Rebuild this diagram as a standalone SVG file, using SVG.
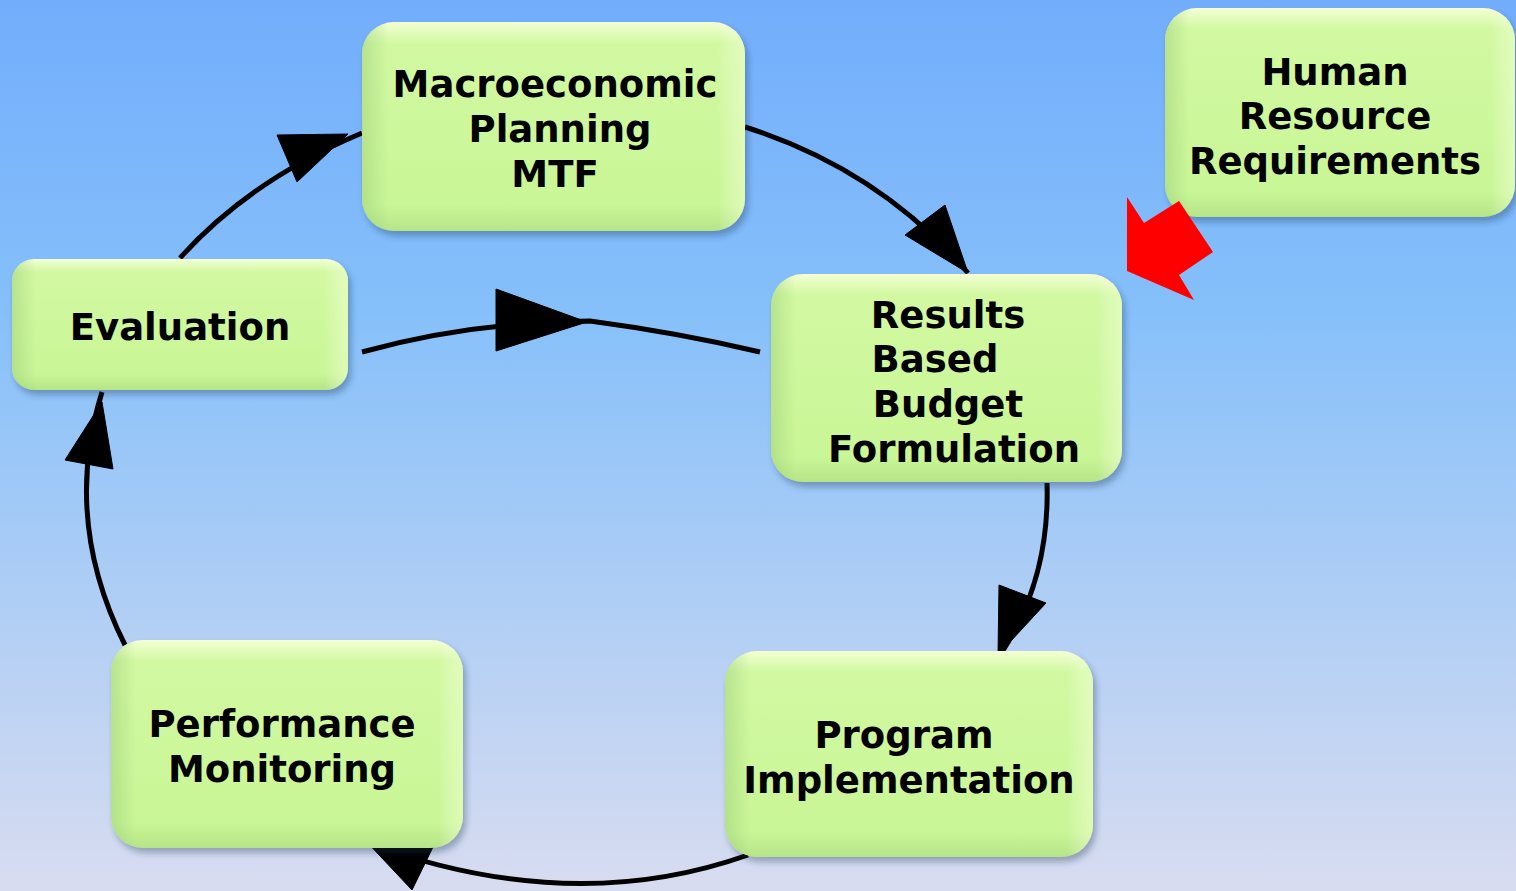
<svg xmlns="http://www.w3.org/2000/svg" width="1516" height="891" viewBox="0 0 1516 891">
<defs>
<linearGradient id="bg" x1="0" y1="0" x2="0" y2="1">
<stop offset="0" stop-color="#72adfc"/>
<stop offset="0.35" stop-color="#86c0fa"/>
<stop offset="1" stop-color="#d8dcf0"/>
</linearGradient>
<linearGradient id="nodeV" x1="0" y1="0" x2="0" y2="1">
<stop offset="0" stop-color="#f4ffd4"/>
<stop offset="0.1" stop-color="#d2f9a2"/>
<stop offset="0.88" stop-color="#c9f696"/>
<stop offset="1" stop-color="#b6e488"/>
</linearGradient>
<linearGradient id="nodeH" x1="0" y1="0" x2="1" y2="0">
<stop offset="0" stop-color="#98c878" stop-opacity="0.45"/>
<stop offset="0.07" stop-color="#98c878" stop-opacity="0"/>
<stop offset="0.93" stop-color="#ffffff" stop-opacity="0"/>
<stop offset="1" stop-color="#f4ffd0" stop-opacity="0.5"/>
</linearGradient>
<filter id="sh" x="-10%" y="-10%" width="125%" height="130%">
<feDropShadow dx="3" dy="5" stdDeviation="3" flood-color="#203050" flood-opacity="0.35"/>
</filter>
</defs>
<style>
.box{fill:url(#nodeV);filter:url(#sh);}
.bev{fill:url(#nodeH);}
.lbl{font-family:"DejaVu Sans","Verdana",sans-serif;font-weight:bold;font-size:37px;fill:#000;text-anchor:middle;}
.con{fill:none;stroke:#000;stroke-width:5;}
.head{fill:#000;stroke:#000;stroke-width:1;stroke-linejoin:round;}
</style>
<rect x="0" y="0" width="1516" height="891" fill="url(#bg)"/>

<g id="connectors">
<path class="con" d="M180,258 Q250,180 362,133"/>
<polygon class="head" points="348,134 277,135 297,182"/>
<path class="con" d="M745,127 Q880,170 968,273"/>
<polygon class="head" points="968,273 945,205 905,235"/>
<path class="con" d="M1047,483 Q1050,580 1000,655"/>
<polygon class="head" points="998,655 999,585 1046,603"/>
<path class="con" d="M748,855 Q570,918 365,842"/>
<polygon class="head" points="365,840 433,847 412,890"/>
<path class="con" d="M125,645 Q62,520 102,392"/>
<polygon class="head" points="102,402 65,460 113,469"/>
<path class="con" d="M362,352 Q470,322 590,321 Q680,333 760,352"/>
<polygon class="head" points="587,322 496,289 496,351"/>
</g>

<g id="node-macro">
<rect class="box" x="362" y="22" width="383" height="209" rx="32"/>
<rect class="bev" x="362" y="22" width="383" height="209" rx="32"/>
<text class="lbl" x="555" y="97">Macroeconomic</text>
<text class="lbl" x="560" y="142">Planning</text>
<text class="lbl" x="555" y="187">MTF</text>
</g>

<g id="node-hr">
<rect class="box" x="1165" y="8" width="350" height="209" rx="32"/>
<rect class="bev" x="1165" y="8" width="350" height="209" rx="32"/>
<text class="lbl" x="1335" y="85">Human</text>
<text class="lbl" x="1335" y="129">Resource</text>
<text class="lbl" x="1335" y="174">Requirements</text>
</g>

<g id="node-eval">
<rect class="box" x="12" y="259" width="336" height="131" rx="22"/>
<rect class="bev" x="12" y="259" width="336" height="131" rx="22"/>
<text class="lbl" x="180" y="340">Evaluation</text>
</g>

<g id="node-results">
<rect class="box" x="771" y="274" width="351" height="208" rx="32"/>
<rect class="bev" x="771" y="274" width="351" height="208" rx="32"/>
<text class="lbl" x="948" y="328">Results</text>
<text class="lbl" x="935" y="372">Based</text>
<text class="lbl" x="948" y="417">Budget</text>
<text class="lbl" x="954" y="462">Formulation</text>
</g>

<g id="node-perf">
<rect class="box" x="111" y="640" width="352" height="208" rx="32"/>
<rect class="bev" x="111" y="640" width="352" height="208" rx="32"/>
<text class="lbl" x="282" y="737">Performance</text>
<text class="lbl" x="282" y="782">Monitoring</text>
</g>

<g id="node-program">
<rect class="box" x="725" y="651" width="368" height="206" rx="32"/>
<rect class="bev" x="725" y="651" width="368" height="206" rx="32"/>
<text class="lbl" x="904" y="748">Program</text>
<text class="lbl" x="909" y="793">Implementation</text>
</g>

<g id="red-arrow">
<polygon points="1127,197 1144,223 1179,201 1213,252 1179,275 1194,300 1127,271" fill="#ff0000"/>
</g>
</svg>
